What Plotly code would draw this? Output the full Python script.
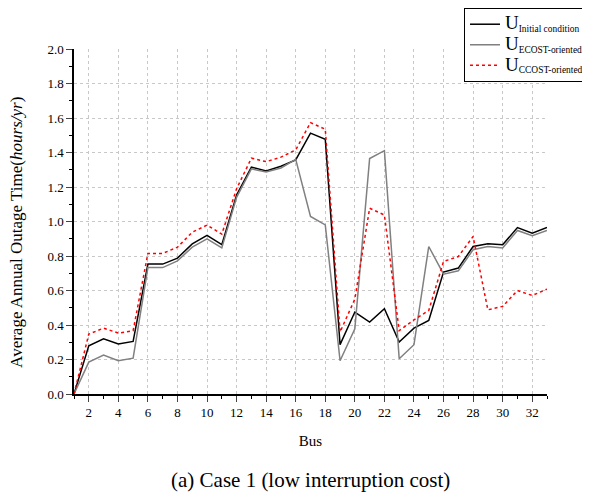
import plotly.graph_objects as go

bus = list(range(1, 34))

u_initial = [0.0, 0.28, 0.32, 0.29, 0.305, 0.753, 0.753, 0.788, 0.87, 0.919, 0.866,
             1.154, 1.315, 1.293, 1.32, 1.357, 1.512, 1.477, 0.286, 0.475, 0.417,
             0.494, 0.301, 0.382, 0.426, 0.707, 0.73, 0.855, 0.871, 0.865, 0.965,
             0.932, 0.965]

u_ecost = [0.0, 0.185, 0.226, 0.193, 0.208, 0.733, 0.733, 0.772, 0.851, 0.9, 0.847,
           1.14, 1.305, 1.287, 1.31, 1.36, 1.029, 0.98, 0.193, 0.378, 1.365,
           1.411, 0.204, 0.286, 0.855, 0.695, 0.714, 0.836, 0.855, 0.847, 0.948,
           0.917, 0.948]

u_ccost = [0.0, 0.347, 0.382, 0.353, 0.367, 0.815, 0.815, 0.851, 0.938, 0.979, 0.927,
           1.19, 1.367, 1.347, 1.373, 1.415, 1.573, 1.535, 0.359, 0.55, 1.077,
           1.038, 0.367, 0.43, 0.484, 0.768, 0.797, 0.913, 0.488, 0.508, 0.6,
           0.571, 0.608]

FONT = "Liberation Serif, Times New Roman, serif"

def legend_name(sub):
    return "<span style='font-size:19px'>U</span><sub>" + sub + "</sub>"

fig = go.Figure()
fig.add_trace(go.Scatter(x=bus, y=u_initial, mode="lines",
                         line=dict(color="black", width=1.5),
                         name=legend_name("Initial condition")))
fig.add_trace(go.Scatter(x=bus, y=u_ecost, mode="lines",
                         line=dict(color="#808080", width=1.5),
                         name=legend_name("ECOST-oriented")))
fig.add_trace(go.Scatter(x=bus, y=u_ccost, mode="lines",
                         line=dict(color="red", width=1.5, dash="dot"),
                         name=legend_name("CCOST-oriented")))

fig.update_layout(
    width=582, height=489,
    margin=dict(l=66, r=43, t=41, b=103, autoexpand=False),
    paper_bgcolor="white", plot_bgcolor="white",
    font=dict(family=FONT, size=13, color="black"),
    legend=dict(x=0.8245, y=1.119, xanchor="left", yanchor="top",
                bordercolor="black", borderwidth=1, bgcolor="white",
                font=dict(family=FONT, size=13.5), tracegroupgap=0,
                itemwidth=30),
    annotations=[
        dict(text="(a) Case 1 (low interruption cost)",
             x=0.5, y=-0.249, xref="paper", yref="paper",
             xanchor="center", yanchor="middle", showarrow=False,
             font=dict(family=FONT, size=21)),
        dict(text="Average Annual Outage Time(<i>hours/yr</i>)",
             x=-0.1205, y=0.467, xref="paper", yref="paper", textangle=-90,
             xanchor="center", yanchor="middle", showarrow=False,
             font=dict(family=FONT, size=17)),
    ],
)

fig.update_xaxes(
    range=[1, 33], tick0=0, dtick=2, ticks="outside", ticklen=6, tickwidth=1,
    showline=True, linecolor="black", linewidth=1.5, zeroline=False,
    showgrid=True, gridcolor="#c8c8c8", griddash="dot", gridwidth=1,
    minor=dict(dtick=1, tick0=1, ticks="outside", ticklen=3, tickcolor="black", showgrid=False),
    tickfont=dict(family=FONT, size=13),
    title=dict(text="Bus", font=dict(family=FONT, size=15), standoff=16),
)
fig.update_yaxes(
    range=[0, 2.0], dtick=0.2, tick0=0, tickformat=".1f", ticks="outside", ticklen=6, tickwidth=1,
    showline=True, linecolor="black", linewidth=1.5, zeroline=False,
    showgrid=True, gridcolor="#c8c8c8", griddash="dot", gridwidth=1,
    minor=dict(dtick=0.1, ticks="outside", ticklen=3, tickcolor="black", showgrid=False),
    tickfont=dict(family=FONT, size=13),
)

fig.write_html("out.html")
